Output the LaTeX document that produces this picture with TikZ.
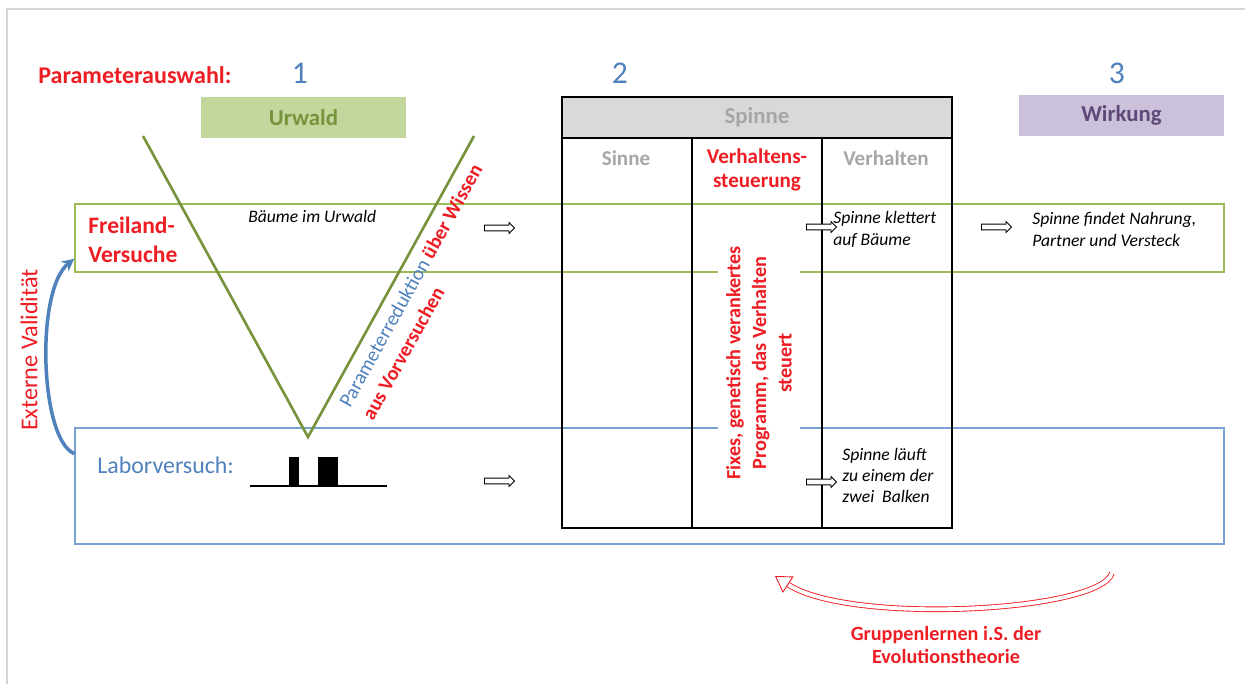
\documentclass[tikz,border=0pt]{standalone}
\usepackage{fontspec}
\setmainfont{Carlito}
\usepackage{tikz}
\usetikzlibrary{arrows.meta,positioning,shapes.arrows}
\definecolor{redc}{HTML}{EE1D23}
\definecolor{bluec}{HTML}{4F81BD}
\definecolor{labc}{HTML}{7AA1D3}
\definecolor{greenc}{HTML}{77933C}
\definecolor{linec}{HTML}{9BBB59}
\definecolor{urwc}{HTML}{C3D69B}
\definecolor{greyc}{HTML}{D9D9D9}
\definecolor{greyt}{HTML}{A6A6A6}
\definecolor{wirc}{HTML}{CCC1DA}
\definecolor{wirt}{HTML}{5F497A}
\definecolor{framec}{HTML}{D4D4D4}
\tikzset{
  ttl/.style={font=\fontsize{13.7}{16}\selectfont\bfseries,inner sep=0pt},
  num/.style={font=\fontsize{18}{20}\selectfont,text=bluec,anchor=base,inner sep=0pt},
  hbox/.style={font=\fontsize{13}{16}\selectfont\bfseries,minimum width=4.1cm,minimum height=0.82cm,inner sep=0pt},
  colh/.style={font=\fontsize{12}{14}\selectfont\bfseries,text=greyt,align=center,inner sep=0pt},
  obs/.style={font=\fontsize{10}{12.3}\selectfont\itshape,align=left,anchor=base west,inner sep=0pt},
  hollow/.style={single arrow,draw=black,fill=white,line width=0.5pt,minimum height=0.6cm,minimum width=0.21cm,
    single arrow head extend=0.05cm,inner xsep=0pt,inner ysep=1.4pt},
  tline/.style={black,line width=1.2pt},
  vline/.style={greenc,line width=1.5pt},
  exp/.style={minimum width=22.98cm,inner sep=0pt},
}

\begin{document}
\begin{tikzpicture}[x=0.02cm,y=-0.02cm]
  \useasboundingbox (0,0) rectangle (1245,684);
  \draw[framec,line width=1.1pt] (1245,9) -- (7,9) -- (7,684);
  \node[ttl,text=redc,anchor=base west] (pa) at (38,83) {Parameterauswahl:};
  \node[num] (n1) at (300,83) {1};
  \node[num] (n2) at (620,83) {2};
  \node[num] (n3) at (1117,83) {3};
  \node[hbox,fill=urwc,text=greenc] (urw) at (303.5,117.5) {Urwald};
  \node[hbox,fill=wirc,text=wirt] (wir) at (1121.5,115) {Wirkung};
  % Versuche
  \node[exp,draw=labc,line width=0.8pt,minimum height=2.32cm] (lab) at (649.5,486) {};
  \node[exp,draw=linec,line width=1pt,minimum height=1.36cm] (fr) at (649.5,238) {};
  \node[ttl,text=redc,align=left,anchor=base west,font=\fontsize{13.4}{16.4}\selectfont\bfseries] (frt) at (88,262) {Freiland-\\Versuche};
  \node[font=\fontsize{13.6}{16}\selectfont,text=bluec,anchor=base west,inner sep=0pt] (labt) at (97,473) {Laborversuch:};
  \draw[line width=0.6pt] (250,486) coordinate (b0) -- (387,486) coordinate (b1);
  \fill (289,457) rectangle (299,486);
  \fill (318,457) rectangle (338,486);
  % Spinne
  \node[fill=greyc,minimum width=7.8cm,minimum height=0.82cm,inner sep=0pt,text=greyt,font=\fontsize{13}{16}\selectfont\bfseries] (sp) at (757,117.5) {Spinne};
  \draw[tline] (562,97) rectangle (952,528);
  \draw[tline] (562,138) -- (952,138);
  \draw[tline] (692,138) -- (692,528);
  \draw[tline] (822,138) -- (822,528);
  \node[colh] (sin) at (626,158) {Sinne};
  \node[colh,text=redc] (vst) at (757,170) {Verhaltens-\\steuerung};
  \node[colh] (vh) at (886,158) {Verhalten};
  \node[rotate=90,fill=white,inner sep=4.5pt,align=center,text=redc,font=\fontsize{11.5}{14.6}\selectfont\bfseries] (fix) at (759,363)
    {Fixes, genetisch verankertes\\Programm, das Verhalten\\steuert};
  % V
  \coordinate (vl) at (143,136);
  \coordinate (vb) at (308,437);
  \coordinate (vr) at (474,136);
  \draw[vline] (vl) -- (vb) -- (vr);
  \node[rotate=61,align=left,text=redc,inner sep=0pt,font=\fontsize{11.5}{15}\selectfont] (pr) at (422,292)
    {{\color{bluec}Parameterreduktion} \textbf{über Wissen}\\\textbf{aus Vorversuchen}};
  \node[rotate=90,text=redc,inner sep=0pt,font=\fontsize{13.8}{16}\selectfont] (ev) at (29,350) {Externe Validität};
  \draw[bluec,line width=2pt,-{Stealth[length=7pt,width=7pt]}] ([yshift=-15pt]lab.north west)
    .. controls (40,440) and (35,290) .. ([yshift=8pt]fr.south west);
  % Beobachtungen
  \node[obs] (bu) at (248,222) {Bäume im Urwald};
  \node[obs] (sk) at (833,245) {Spinne klettert\\auf Bäume};
  \node[obs] (sn) at (1032,246) {Spinne findet Nahrung,\\Partner und Versteck};
  \node[obs,font=\fontsize{10}{11.9}\selectfont\itshape] (sl) at (842,502) {Spinne läuft\\zu einem der\\zwei\ \ Balken};
  \node[hollow] (a1) at (498,228) {};
  \node[hollow] (a2) at (820,227) {};
  \node[hollow] (a3) at (995,227) {};
  \node[hollow] (a4) at (498,481) {};
  \node[hollow] (a5) at (820,482) {};
  % Gruppenlernen
  \coordinate (gt) at (1112,573);
  \coordinate (gh) at (775,576);
  \draw[redc,double=white,double distance=2.2pt,line width=0.5pt,-{Triangle[open,length=9pt,width=11pt]}] (gt)
    .. controls (1100,612) and (850,625) .. (gh);
  \node[text=redc,align=center,font=\fontsize{11.5}{13.6}\selectfont\bfseries] (gl) at (946,645) {Gruppenlernen i.S. der\\Evolutionstheorie};
\end{tikzpicture}
\end{document}
